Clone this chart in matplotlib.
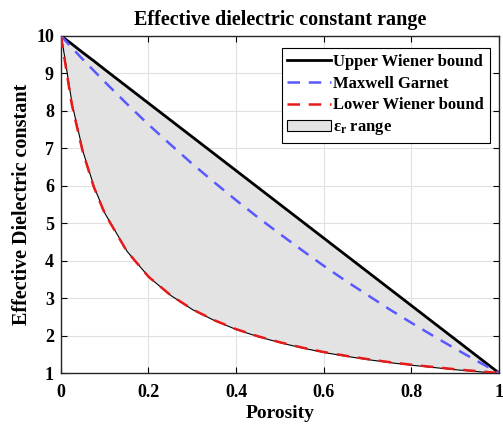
import numpy as np
import matplotlib.pyplot as plt

plt.rcParams['font.family'] = ['Liberation Serif', 'DejaVu Serif']
plt.rcParams['font.weight'] = 'bold'
plt.rcParams['mathtext.fontset'] = 'custom'
plt.rcParams['mathtext.rm'] = 'Liberation Serif:bold'
plt.rcParams['mathtext.it'] = 'Liberation Serif:bold'

# porosity grid and values
porosity = [0, 0.025, 0.05, 0.075, 0.1, 0.15, 0.2, 0.25, 0.3, 0.35, 0.4, 0.45,
            0.5, 0.55, 0.6, 0.65, 0.7, 0.75, 0.8, 0.85, 0.9, 0.95, 1.0]
upper = [10, 9.78, 9.55, 9.33, 9.1, 8.65, 8.2, 7.75, 7.3, 6.85, 6.4, 5.95,
         5.5, 5.05, 4.6, 4.15, 3.7, 3.25, 2.8, 2.35, 1.9, 1.45, 1.0]
maxwell = [10, 9.68, 9.37, 9.07, 8.77, 8.19, 7.63, 7.10, 6.58, 6.09, 5.61, 5.15,
           4.71, 4.28, 3.86, 3.46, 3.08, 2.70, 2.34, 1.99, 1.65, 1.32, 1.0]
lower = [10, 8.16, 6.90, 5.97, 5.26, 4.26, 3.57, 3.08, 2.70, 2.41, 2.17, 1.98,
         1.82, 1.68, 1.56, 1.46, 1.37, 1.29, 1.22, 1.16, 1.10, 1.05, 1.0]

fig = plt.figure(figsize=(5.03, 4.28), dpi=100)
ax = fig.add_axes([0.121, 0.1285, 0.871, 0.788])

ax.fill_between(porosity, lower, upper, facecolor=(0.89, 0.89, 0.89),
                edgecolor='k', linewidth=0.8, label=r'$\epsilon_r$ range', zorder=1)
ax.plot(porosity, upper, color='k', lw=2, label='Upper Wiener bound', zorder=3)
ax.plot(porosity, maxwell, color=(0.35, 0.35, 1.0), lw=1.8, ls=(0, (5, 3.5)),
        label='Maxwell Garnet', zorder=3)
ax.plot(porosity, lower, color=(0.9, 0.1, 0.1), lw=1.8, ls=(0, (5, 3.5)),
        label='Lower Wiener bound', zorder=3)

ax.set_xlim(0, 1)
ax.set_ylim(1, 10)
ax.set_xticks([0, 0.2, 0.4, 0.6, 0.8, 1])
ax.set_xticklabels(['0', '0.2', '0.4', '0.6', '0.8', '1'])
ax.set_yticks(range(1, 11))
ax.tick_params(direction='in', labelsize=13, length=4, top=True, right=True)
ax.tick_params(axis='x', pad=8)
ax.tick_params(axis='y', pad=5)
ax.grid(color=(0.88, 0.88, 0.88), lw=0.8)
ax.set_axisbelow(True)
for s in ax.spines.values():
    s.set_linewidth(1.0)
    s.set_color((0.15, 0.15, 0.15))

ax.set_title('Effective dielectric constant range', fontsize=14.5, fontweight='bold', pad=8)
ax.set_xlabel('Porosity', fontsize=14, fontweight='bold', labelpad=3)
ax.set_ylabel('Effective Dielectric constant', fontsize=14.5, fontweight='bold', labelpad=3)

h, l = ax.get_legend_handles_labels()
order = [1, 2, 3, 0]
leg = ax.legend([h[i] for i in order], [l[i] for i in order], loc='upper right',
                fontsize=12, fancybox=False, edgecolor='k', framealpha=1,
                handlelength=2.6, handletextpad=0.15, borderpad=0.35,
                labelspacing=0.35, borderaxespad=0, bbox_to_anchor=(0.979, 0.964))
leg.get_frame().set_linewidth(0.8)

fig.savefig('out.png', dpi=100)
